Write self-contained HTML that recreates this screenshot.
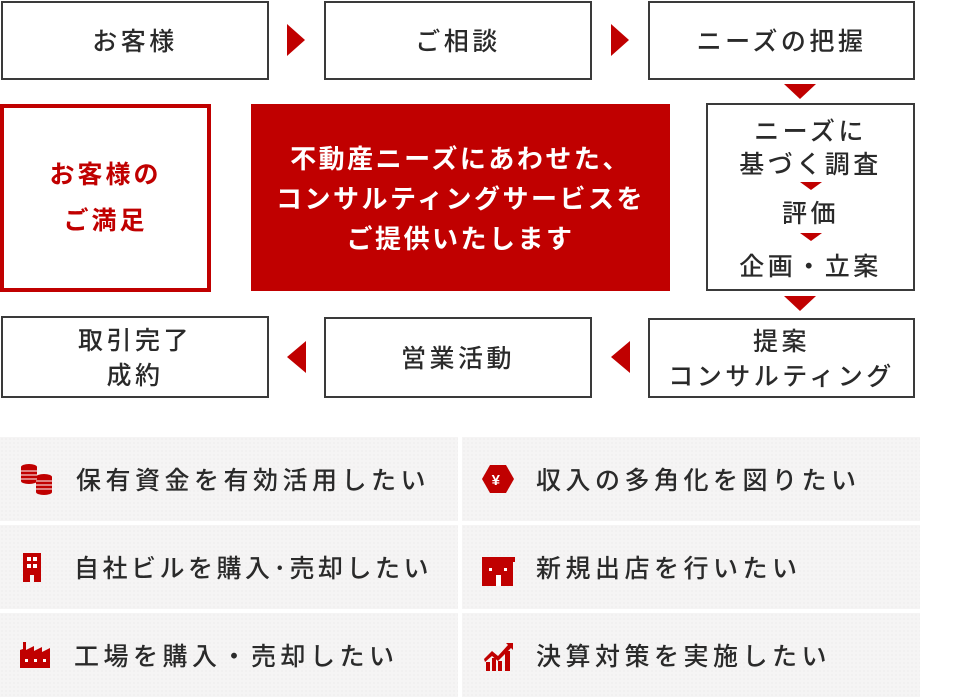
<!DOCTYPE html>
<html><head><meta charset="utf-8"><style>
*{margin:0;padding:0;box-sizing:border-box}
body{width:960px;height:698px;background:#fff;position:relative;overflow:hidden;font-family:"Liberation Sans","Noto Sans CJK JP",sans-serif;color:#333}
.b{position:absolute;border:2px solid #3a3a3a;display:flex;align-items:center;justify-content:center;text-align:center;font-size:25px;font-weight:500;letter-spacing:3.5px;line-height:35px;background:#fff;color:#2a2a2a;padding-top:4px}
.tr{position:absolute;width:0;height:0}
.r{border-top:16px solid transparent;border-bottom:16px solid transparent;border-left:18px solid #c00000}
.l{border-top:16px solid transparent;border-bottom:16px solid transparent;border-right:19px solid #c00000}
.d{border-left:16px solid transparent;border-right:16px solid transparent;border-top:15px solid #c00000}
.p{position:absolute;background:#f5f4f4;background-image:radial-gradient(#e6e4e4 0.6px,transparent 0.8px);background-size:4px 4px;font-size:25px;font-weight:500;letter-spacing:4.5px;display:flex;align-items:center;color:#2a2a2a}
.p svg{position:absolute}
.p span{position:absolute;left:76px}
.ln{position:absolute;left:0;width:100%;text-align:center;line-height:30px}
.sa{position:absolute;left:50%;margin-left:-11px;width:0;height:0;border-left:11px solid transparent;border-right:11px solid transparent;border-top:8px solid #c00000}
</style></head><body>
<div class="b" style="left:1px;top:1px;width:268px;height:79px">お客様</div>
<div class="b" style="left:324px;top:1px;width:268px;height:79px">ご相談</div>
<div class="b" style="left:648px;top:1px;width:267px;height:79px">ニーズの把握</div>
<div class="tr r" style="left:287px;top:24px"></div>
<div class="tr r" style="left:611px;top:24px"></div>
<div class="tr d" style="left:784px;top:84px"></div>

<div style="position:absolute;left:0;top:104px;width:211px;height:188px;border:4px solid #c00000;display:flex;align-items:center;justify-content:center;text-align:center;color:#c00000;font-size:25px;font-weight:bold;line-height:46px;letter-spacing:3px">お客様の<br>ご満足</div>
<div style="position:absolute;left:251px;top:104px;width:419px;height:187px;background:#c00000;color:#fff;display:flex;align-items:center;justify-content:center;text-align:center;font-size:26px;font-weight:bold;line-height:40px;letter-spacing:2.5px;padding-top:2px">不動産ニーズにあわせた、<br>コンサルティングサービスを<br>ご提供いたします</div>

<div class="b" style="left:706px;top:103px;width:209px;height:188px;display:block;padding-top:0">
<div class="ln" style="top:12px">ニーズに</div>
<div class="ln" style="top:45px">基づく調査</div>
<div class="sa" style="top:77px"></div>
<div class="ln" style="top:94px">評価</div>
<div class="sa" style="top:128px"></div>
<div class="ln" style="top:147px">企画・立案</div>
</div>
<div class="tr d" style="left:784px;top:296px"></div>

<div class="b" style="left:648px;top:318px;width:267px;height:80px;line-height:35px">提案<br>コンサルティング</div>
<div class="b" style="left:324px;top:317px;width:268px;height:81px">営業活動</div>
<div class="b" style="left:1px;top:316px;width:268px;height:82px;line-height:35px">取引完了<br>成約</div>
<div class="tr l" style="left:611px;top:341px"></div>
<div class="tr l" style="left:287px;top:341px"></div>

<div class="p" style="left:0;top:437px;width:458px;height:84px">
<svg style="left:20px;top:27px" width="34" height="32" viewBox="0 0 34 32"><g fill="#c00000"><ellipse cx="9" cy="3" rx="8" ry="3"/><rect x="1" y="3" width="16" height="14"/><ellipse cx="9" cy="17" rx="8" ry="3"/><ellipse cx="24" cy="13" rx="8" ry="3"/><rect x="16" y="13" width="16" height="15"/><ellipse cx="24" cy="28" rx="8" ry="3"/></g><g stroke="#fff" stroke-width="1"><path d="M1 7h16M1 11h16M1 15h16M16 17h16M16 21h16M16 25h16"/></g></svg>
<span>保有資金を有効活用したい</span></div>
<div class="p" style="left:0;top:525px;width:458px;height:84px">
<svg style="left:23px;top:28px" width="18" height="29" viewBox="0 0 18 29"><path fill="#c00000" d="M0 0h18v29H11v-7H7v7H0z"/><g fill="#fff"><rect x="4" y="4" width="4" height="4"/><rect x="10" y="4" width="4" height="4"/><rect x="4" y="11" width="4" height="4"/><rect x="10" y="11" width="4" height="4"/></g></svg>
<span style="left:74px;letter-spacing:3.5px">自社ビルを購入･売却したい</span></div>
<div class="p" style="left:0;top:613px;width:458px;height:84px">
<svg style="left:20px;top:29px" width="33" height="26" viewBox="0 0 33 26"><path fill="#c00000" d="M3 0h3v8l8-4v5l8-4v5l8-4v20H0V8l3-1z"/><g fill="#fff"><rect x="5" y="17" width="3" height="3"/><rect x="14" y="17" width="3" height="3"/><rect x="23" y="17" width="3" height="3"/></g></svg>
<span style="left:74px">工場を購入・売却したい</span></div>

<div class="p" style="left:462px;top:437px;width:458px;height:84px">
<svg style="left:20px;top:28px" width="32" height="28" viewBox="0 0 32 28"><path fill="#c00000" d="M8 0h16l8 14-8 14H8L0 14z"/><text x="16" y="20" fill="#fff" font-size="15" font-weight="bold" text-anchor="middle" font-family="Liberation Sans">¥</text></svg>
<span style="left:74px">収入の多角化を図りたい</span></div>
<div class="p" style="left:462px;top:525px;width:458px;height:84px">
<svg style="left:20px;top:32px" width="33" height="29" viewBox="0 0 33 29"><path fill="#c00000" d="M0 0h33v5h-2v24H0V5z"/><g fill="#fff"><rect x="7" y="11" width="3" height="3"/><rect x="22" y="11" width="3" height="3"/><rect x="14" y="18" width="5" height="11"/></g></svg>
<span style="left:74px">新規出店を行いたい</span></div>
<div class="p" style="left:462px;top:613px;width:458px;height:84px">
<svg style="left:22px;top:27px" width="30" height="31" viewBox="0 0 30 31"><g fill="#c00000"><rect x="2" y="22" width="4" height="9"/><rect x="8" y="18" width="4" height="13"/><rect x="14" y="21" width="4" height="10"/><rect x="21" y="11" width="5" height="20"/><path d="M0 19l8-8 6 5 10-11-2-2h7v7l-2-2-13 13-6-5-7 6z"/></g></svg>
<span style="left:74px">決算対策を実施したい</span></div>
</body></html>
